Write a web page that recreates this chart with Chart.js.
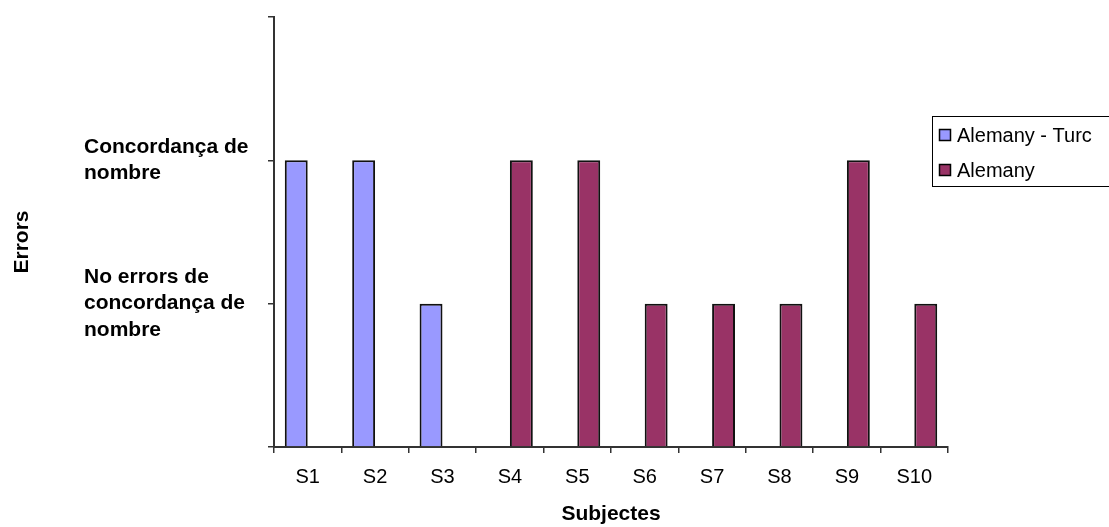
<!DOCTYPE html>
<html>
<head>
<meta charset="utf-8">
<script src="https://cdn.jsdelivr.net/npm/chart.js@4.4.1/dist/chart.umd.min.js"></script>
<style>
  html, body { margin: 0; padding: 0; background: #ffffff; }
  #wrap { width: 1109px; height: 527px; }
</style>
</head>
<body>
<div id="wrap"><canvas id="chart" width="1109" height="527"></canvas></div>
<script>
// Subjects on the x axis
const subjects = ['S1', 'S2', 'S3', 'S4', 'S5', 'S6', 'S7', 'S8', 'S9', 'S10'];

// Error level per subject (1 = no agreement errors, 2 = number agreement)
const alemanyTurc = [2, 2, 1, null, null, null, null, null, null, null];
const alemany     = [null, null, null, 2, 2, 1, 1, 1, 2, 1];

// Series names
const seriesNames = ['Alemany - Turc', 'Alemany'];

// Labels for the y axis levels 0..3
const levelLabels = [
  '',
  ['No errors de', 'concordança de', 'nombre'],
  ['Concordança de', 'nombre'],
  ''
];

const yTitle = 'Errors';
const xTitle = 'Subjectes';

const AXIS = '#333333';
const boldFont = { family: '"Liberation Sans", Arial, sans-serif', size: 21, weight: 'bold' };
const plainFont = { family: '"Liberation Sans", Arial, sans-serif', size: 20 };

// Rotated y title and the boxed legend on the right
const sideText = {
  id: 'sideText',
  afterDraw(chart) {
    const ctx = chart.ctx;
    ctx.save();
    ctx.fillStyle = '#000';
    ctx.font = 'bold 21px "Liberation Sans", Arial, sans-serif';
    ctx.textAlign = 'center';
    ctx.textBaseline = 'middle';
    ctx.translate(22, 242);
    ctx.rotate(-Math.PI / 2);
    ctx.fillText(yTitle, 0, 0);
    ctx.restore();

    ctx.save();
    ctx.strokeStyle = '#000';
    ctx.lineWidth = 1;
    ctx.fillStyle = '#fff';
    ctx.fillRect(932, 116, 200, 70);
    ctx.strokeRect(932.5, 116.5, 200, 70);
    ctx.font = '20px "Liberation Sans", Arial, sans-serif';
    ctx.textAlign = 'left';
    ctx.textBaseline = 'middle';
    chart.data.datasets.forEach((ds, i) => {
      const cy = 135 + i * 35;
      ctx.fillStyle = ds.backgroundColor;
      ctx.fillRect(939, cy - 6, 12, 12);
      ctx.strokeStyle = '#000';
      ctx.lineWidth = 1.5;
      ctx.strokeRect(939.5, cy - 5.5, 11, 11);
      ctx.fillStyle = '#000';
      ctx.fillText(ds.label, 957, cy + 1);
    });
    ctx.restore();
  }
};

new Chart(document.getElementById('chart'), {
  type: 'bar',
  data: {
    labels: subjects,
    datasets: [
      {
        label: seriesNames[0],
        data: alemanyTurc,
        backgroundColor: '#9999FF',
        borderColor: '#111111',
        borderWidth: 2,
        borderSkipped: 'start',
        categoryPercentage: 0.68,
        barPercentage: 1
      },
      {
        label: seriesNames[1],
        data: alemany,
        backgroundColor: '#993366',
        borderColor: '#111111',
        borderWidth: 2,
        borderSkipped: 'start',
        categoryPercentage: 0.68,
        barPercentage: 1
      }
    ]
  },
  options: {
    responsive: false,
    animation: false,
    devicePixelRatio: 1,
    layout: { padding: { left: 84, right: 161, top: 17, bottom: 0 } },
    plugins: {
      legend: { display: false },
      tooltip: { enabled: false },
      title: { display: false }
    },
    scales: {
      x: {
        grid: {
          display: true,
          drawOnChartArea: false,
          drawTicks: true,
          tickLength: 6,
          color: AXIS,
          lineWidth: 1.5
        },
        border: { display: true, color: AXIS, width: 2 },
        ticks: { color: '#000', font: plainFont, padding: 12, maxRotation: 0 },
        title: {
          display: true,
          text: xTitle,
          color: '#000',
          font: boldFont,
          padding: { top: 0, bottom: 0 }
        },
        afterFit(scale) { scale.height = 80; }
      },
      y: {
        min: 0,
        max: 3,
        ticks: {
          stepSize: 1,
          color: '#000',
          font: { ...boldFont, lineHeight: 1.26 },
          crossAlign: 'far',
          callback: (v) => levelLabels[v] ?? ''
        },
        grid: {
          display: true,
          drawOnChartArea: false,
          drawTicks: true,
          tickLength: 6,
          color: AXIS,
          lineWidth: 1.5
        },
        border: { display: true, color: AXIS, width: 2 },
        afterFit(scale) { scale.width = 190; }
      }
    }
  },
  plugins: [sideText]
});
</script>
</body>
</html>
